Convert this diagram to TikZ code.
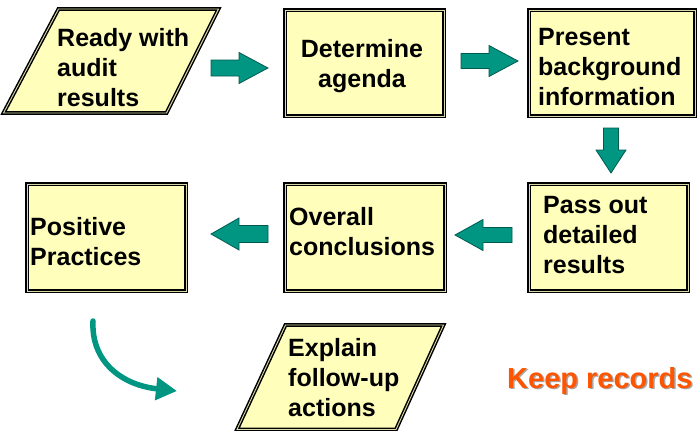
\documentclass[tikz,border=0pt]{standalone}
\usepackage{fontspec}
\setmainfont{Liberation Sans}
\usetikzlibrary{arrows.meta}
\definecolor{boxfill}{RGB}{255,255,187}
\definecolor{tealfill}{RGB}{0,150,130}
\definecolor{tealedge}{RGB}{0,90,80}
\definecolor{keeporange}{RGB}{255,85,0}
\begin{document}
\begin{tikzpicture}[x=1pt,y=-1pt,
  box/.style={draw=black, line width=1.5pt, double=boxfill!70!gray, double distance=0.9pt, fill=boxfill, inner sep=0pt},
  lbl/.style={inner sep=0pt, font=\bfseries\fontsize{25}{30}\selectfont, align=left},
  barrow/.style={fill=tealfill, draw=tealedge, line width=0.8pt, line join=miter}]
\useasboundingbox (0,0) rectangle (699,431);

% rectangular boxes
\node[box, minimum width=159pt, minimum height=106pt] (det)  at (364.5,63) {};
\node[box, minimum width=166pt, minimum height=106pt] (pres) at (612,63) {};
\node[box, minimum width=159pt, minimum height=107pt] (pos)  at (106.5,237.5) {};
\node[box, minimum width=160pt, minimum height=107pt] (over) at (365,237.5) {};
\node[box, minimum width=159pt, minimum height=107pt] (pass) at (608.5,237.5) {};

% parallelograms
\draw[box] (58.5,9) coordinate (readytl) -- (218.5,9) -- (166.5,113) -- (3.5,113) -- cycle;
\draw[box] (285.5,325) coordinate (exptl) -- (443.5,325) -- (396,429.5) -- (237,429.5) -- cycle;

% texts
\node[lbl, anchor=west] (tready) at (57,68) {Ready with\\audit\\results};
\node[lbl, align=center] (tdet) at (362,66) {Determine\\agenda};
\node[lbl, anchor=west] (tpres) at (538,67) {Present\\background\\information};
\node[lbl, anchor=west] (tpass) at (543,235) {Pass out\\detailed\\results};
\node[lbl, anchor=west] (tover) at (289,232) {Overall\\conclusions};
\node[lbl, anchor=west] (tpos) at (30,242) {Positive\\Practices};
\node[lbl, anchor=west] (texp) at (288,378) {Explain\\follow-up\\actions};

\node[inner sep=0pt, anchor=base west, text=black!35, font=\bfseries\fontsize{29}{34}\selectfont] at (508.5,389.5) {Keep records};
\node[inner sep=0pt, anchor=base west, text=keeporange, font=\bfseries\fontsize{29}{34}\selectfont] (keep) at (507,388) {Keep records};

% block arrows
\draw[barrow] (211,60) -- (239,60) -- (239,52.5) -- (268,68) -- (239,83.5) -- (239,76) -- (211,76) -- cycle;
\draw[barrow] (461,53.5) -- (489,53.5) -- (489,45.5) -- (518,61) -- (489,76.5) -- (489,68.5) -- (461,68.5) -- cycle;
\draw[barrow] (603.5,128) -- (603.5,150) -- (596,150) -- (611,173) -- (626,150) -- (618.5,150) -- (618.5,128) -- cycle;
\draw[barrow] (512,227.5) -- (483,227.5) -- (483,219.5) -- (455,235) -- (483,250.5) -- (483,242.5) -- (512,242.5) -- cycle;
\draw[barrow] (268,225.5) -- (239,225.5) -- (239,218) -- (211,234) -- (239,250) -- (239,242.5) -- (268,242.5) -- cycle;

% curved arrow
\coordinate (cs) at (93,321);
\coordinate (ce) at (177,391);
\draw[tealfill, line width=5.5pt, line cap=round, -{Triangle[length=21pt,width=22pt]}] (cs) .. controls (91,362) and (122,385) .. (ce);
\end{tikzpicture}
\end{document}
